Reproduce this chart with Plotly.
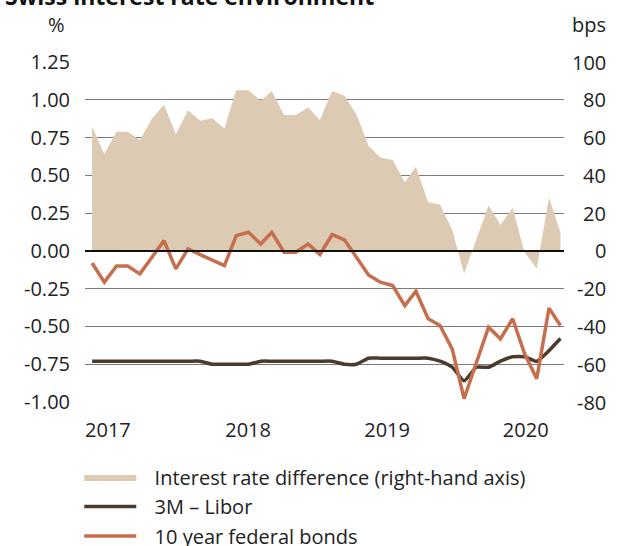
import plotly.graph_objects as go
import pandas as pd

# ---- data ----
months = pd.date_range("2016-12-01", periods=40, freq="MS")

rate_diff_bps = [65.7, 51.3, 63.1, 63.1, 58.7, 69.8, 77.4, 61.9, 74.5, 68.9,
                 70.2, 64.8, 85.1, 85.1, 79.5, 84.7, 71.9, 71.9, 75.9, 69.3,
                 84.7, 82.1, 72.4, 55.7, 49.5, 48.1, 36.3, 44.6, 25.7, 24.5,
                 11.0, -12.0, 6.0, 24.0, 13.9, 22.7, -0.7, -9.3, 28.3, 9.8]

libor_3m = [-0.73, -0.73, -0.73, -0.73, -0.73, -0.73, -0.73, -0.73, -0.73, -0.73,
            -0.75, -0.75, -0.75, -0.75, -0.73, -0.73, -0.73, -0.73, -0.73, -0.73,
            -0.73, -0.75, -0.75, -0.71, -0.71, -0.71, -0.71, -0.71, -0.71, -0.73,
            -0.77, -0.86, -0.77, -0.77, -0.73, -0.70, -0.70, -0.73, -0.66, -0.58]

bond_10y = [-0.08, -0.207, -0.10, -0.10, -0.152, -0.04, 0.068, -0.119, 0.013, -0.025,
            -0.06, -0.097, 0.101, 0.123, 0.046, 0.123, -0.009, -0.009, 0.046, -0.024,
            0.108, 0.073, -0.04, -0.159, -0.207, -0.229, -0.362, -0.267, -0.449, -0.494,
            -0.65, -0.978, -0.74, -0.505, -0.582, -0.449, -0.68, -0.846, -0.379, -0.494]

year_labels = ["2017", "2018", "2019", "2020"]
year_tick_dates = ["2017-01-10", "2017-12-31", "2018-12-18", "2019-12-04"]

pct_ticks = [-1.0, -0.75, -0.5, -0.25, 0.0, 0.25, 0.5, 0.75, 1.0, 1.25]
pct_labels = ["-1.00", "-0.75", "-0.50", "-0.25", "0.00", "0.25", "0.50", "0.75", "1.00", "1.25"]
bps_ticks = [-80, -60, -40, -20, 0, 20, 40, 60, 80, 100]
bps_labels = ["-80", "-60", "-40", "-20", "0", "20", "40", "60", "80", "100"]

series_names = ["Interest rate difference (right-hand axis)", "3M \u2013 Libor", "10 year federal bonds"]

# ---- styles ----
FONT = "Open Sans"
FS = 20
TAN = "#dccab2"
DARK = "#4b3b2d"
ORANGE = "#c56f4f"
TXT = "#222222"
PAD = "\u2002\u2009"   # visual gap between legend swatch and text
RIGHT_LABEL_X = 1.0919  # paper x of the right edge of right-axis labels

fig = go.Figure()

fig.add_trace(go.Scatter(
    x=months, y=rate_diff_bps, yaxis="y", name=PAD + series_names[0],
    mode="lines", line=dict(width=0, color=TAN), fill="tozeroy", fillcolor=TAN,
    legendgroup="a", hoverinfo="skip"))

fig.add_trace(go.Scatter(
    x=months, y=libor_3m, yaxis="y2", name=PAD + series_names[1],
    mode="lines", line=dict(width=3.5, color=DARK, shape="spline", smoothing=0.5),
    legendgroup="b"))

fig.add_trace(go.Scatter(
    x=months, y=bond_10y, yaxis="y2", name=PAD + series_names[2],
    mode="lines", line=dict(width=3.5, color=ORANGE),
    legendgroup="c"))

fig.update_layout(
    width=619, height=546,
    margin=dict(l=85, r=55, t=62, b=144, autoexpand=False),
    paper_bgcolor="white", plot_bgcolor="white",
    font=dict(family=FONT, size=FS, color=TXT),
    showlegend=True,
    legend=dict(x=-0.012, y=-0.163, xanchor="left", yanchor="top",
                orientation="v", itemwidth=52, tracegroupgap=0.5,
                font=dict(family=FONT, size=FS, color=TXT),
                bgcolor="rgba(0,0,0,0)"),
    xaxis=dict(type="date", range=["2016-11-13", "2020-03-10"],
               tickvals=year_tick_dates, ticktext=year_labels,
               showgrid=False, zeroline=False, showline=False, ticks="",
               ticklabelstandoff=14, automargin=False,
               tickfont=dict(family=FONT, size=FS, color=TXT)),
    yaxis=dict(range=[-80, 100], side="right",
               tickvals=bps_ticks, showticklabels=False,
               showgrid=True, gridcolor="#7a7a7a", gridwidth=1.2,
               zeroline=True, zerolinecolor="#111111", zerolinewidth=2,
               showline=False, ticks="", automargin=False),
    yaxis2=dict(range=[-1.0, 1.25], side="left", overlaying="y",
                tickvals=pct_ticks, ticktext=pct_labels,
                showgrid=False, zeroline=False, showline=False, ticks="",
                ticklabelstandoff=14, automargin=False,
                tickfont=dict(family=FONT, size=FS, color=TXT)),
)

try:
    fig.update_layout(yaxis_zerolinelayer="above traces")
except Exception:
    pass

# right-axis tick labels, right-aligned, placed through the bps axis scale
for val, lab in zip(bps_ticks, bps_labels):
    fig.add_annotation(text=lab, xref="paper", yref="y", x=RIGHT_LABEL_X, y=val,
                       xanchor="right", yanchor="middle", showarrow=False,
                       font=dict(family=FONT, size=FS, color=TXT))

fig.add_annotation(text="<b>Swiss interest rate environment</b>", xref="paper", yref="paper",
                   x=-0.171, y=1.141, xanchor="left", yanchor="bottom", showarrow=False,
                   font=dict(family=FONT, size=23, color="#111111"))
fig.add_annotation(text="%", xref="paper", yref="paper", x=-0.0376, y=1.109,
                   xanchor="right", yanchor="middle", showarrow=False,
                   font=dict(family=FONT, size=FS, color=TXT))
fig.add_annotation(text="bps", xref="paper", yref="paper", x=RIGHT_LABEL_X, y=1.109,
                   xanchor="right", yanchor="middle", showarrow=False,
                   font=dict(family=FONT, size=FS, color=TXT))

fig.write_html("out.html", config={"displayModeBar": False},
               post_script="document.body.style.margin='0px';")
